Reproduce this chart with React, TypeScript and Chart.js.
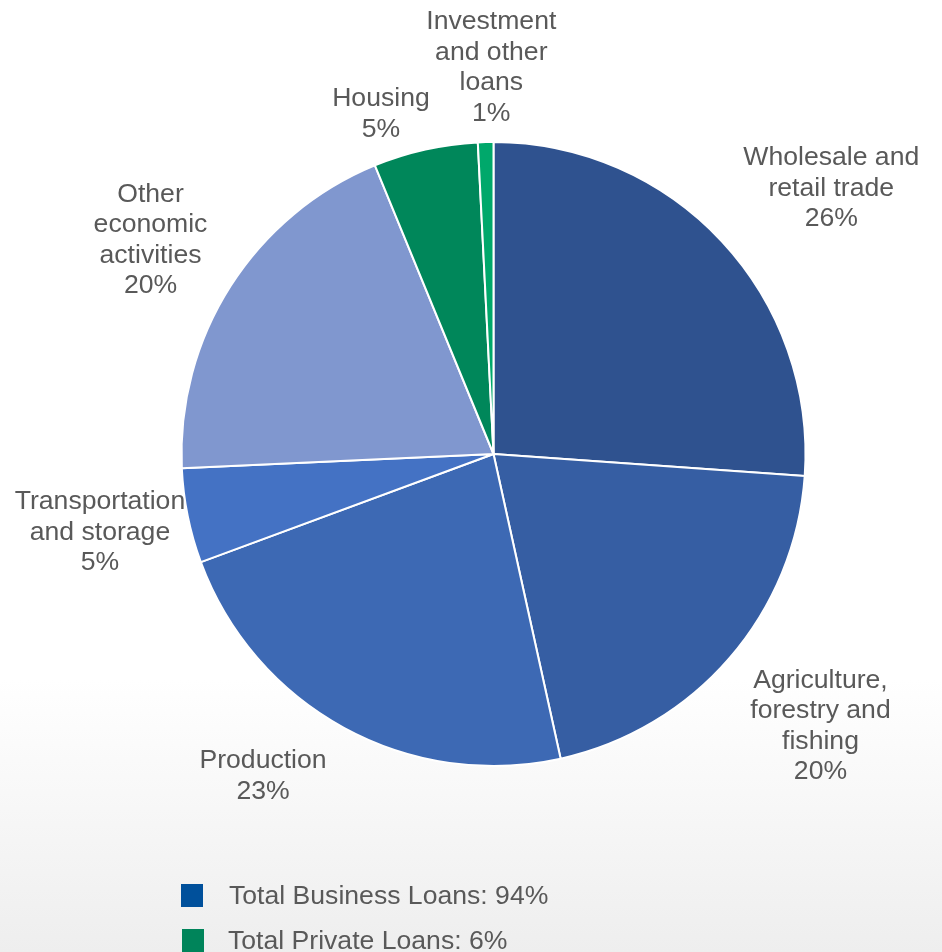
import React, { useEffect, useRef } from "react";
import { Chart, registerables } from "chart.js";

Chart.register(...registerables);

const categories: string[][] = [
  ["Wholesale and", "retail trade"],
  ["Agriculture,", "forestry and", "fishing"],
  ["Production"],
  ["Transportation", "and storage"],
  ["Other", "economic", "activities"],
  ["Housing"],
  ["Investment", "and other", "loans"],
];
const shares: number[] = [26.1, 20.4, 22.8, 4.9, 19.5, 5.4, 0.8];
const sliceColors: string[] = ["#2F528F", "#365EA3", "#3D69B4", "#4472C4", "#8097CF", "#00875A", "#00A86B"];
const legendLabels: string[] = ["Total Business Loans: 94%", "Total Private Loans: 6%"];
const legendColors: string[] = ["#00509B", "#00845A"];

// label placement: distance factor from centre (x radius) and small pixel nudges
const LABEL_DIST = 1.3;
const labelNudges: number[][] = [
  [41, 11],
  [20, 7],
  [-36, -34],
  [4, -2],
  [-1, 4],
  [-24, 56],
  [8, 19],
];

const FONT = '"Liberation Sans", Arial, sans-serif';
const TEXT = "#595959";

const labelPlugin = {
  id: "outerLabels",
  afterDatasetsDraw(chart: any) {
    const ctx = chart.ctx;
    const meta = chart.getDatasetMeta(0);
    const data = chart.data.datasets[0].data as number[];
    const total = data.reduce((a, b) => a + b, 0);
    ctx.save();
    ctx.font = `26.6px ${FONT}`;
    ctx.fillStyle = TEXT;
    ctx.textAlign = "center";
    ctx.textBaseline = "middle";
    meta.data.forEach((arc: any, i: number) => {
      const p = arc.getProps(["x", "y", "startAngle", "endAngle", "outerRadius"], true);
      const mid = (p.startAngle + p.endAngle) / 2;
      const d = p.outerRadius * LABEL_DIST;
      const cx = p.x + Math.cos(mid) * d + labelNudges[i][0];
      const cy = p.y + Math.sin(mid) * d + labelNudges[i][1];
      const lines = [...categories[i], `${Math.round((data[i] / total) * 100)}%`];
      const lh = 30.5;
      const y0 = cy - ((lines.length - 1) * lh) / 2;
      lines.forEach((t, k) => ctx.fillText(t, cx, y0 + k * lh));
    });
    ctx.restore();
  },
};

export default function App() {
  const ref = useRef<HTMLCanvasElement | null>(null);
  useEffect(() => {
    if (!ref.current) return;
    const chart = new Chart(ref.current, {
      type: "pie",
      data: {
        labels: categories.map((c) => c.join(" ")),
        datasets: [
          {
            data: shares,
            backgroundColor: sliceColors,
            borderColor: "#ffffff",
            borderWidth: 2,
          },
        ],
      },
      options: {
        responsive: false,
        animation: false,
        layout: { padding: { left: 180, right: 135, top: 141, bottom: 185 } },
        plugins: { legend: { display: false }, tooltip: { enabled: false } },
      },
      plugins: [labelPlugin],
    });
    return () => chart.destroy();
  }, []);

  return (
    <div
      style={{
        position: "fixed",
        left: 0,
        top: 0,
        width: 942,
        height: 952,
        overflow: "hidden",
        background: "linear-gradient(to bottom, #ffffff 0px, #ffffff 680px, #eeeeee 952px)",
        fontFamily: FONT,
      }}
    >
      <canvas ref={ref} width={942} height={952} style={{ position: "absolute", left: 0, top: 0 }} />
      {legendLabels.map((t, i) => (
        <div key={t} style={{ position: "absolute", left: 181 + i, top: 883 + i * 45, height: 24, display: "flex", alignItems: "center" }}>
          <div style={{ width: 22, height: 23, background: legendColors[i] }} />
          <span style={{ marginLeft: 26 - i * 2, fontSize: 26.6, color: TEXT, whiteSpace: "nowrap", lineHeight: "24px" }}>{t}</span>
        </div>
      ))}
    </div>
  );
}
